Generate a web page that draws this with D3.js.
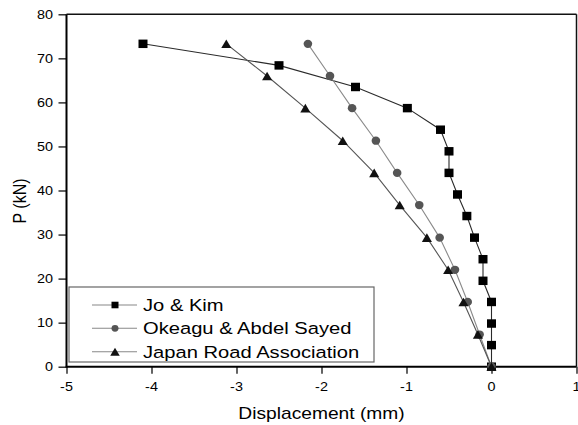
<!DOCTYPE html>
<html>
<head>
<meta charset="utf-8">
<script src="https://cdn.jsdelivr.net/npm/d3@7"></script>
<style>
  html, body { margin: 0; padding: 0; background: #fff; }
  svg { display: block; }
  text { font-family: "Liberation Sans", Arial, sans-serif; fill: #000; }
</style>
</head>
<body>
<svg id="chart" width="578" height="425"></svg>
<script>
// Load (kN) against displacement (mm) for three prediction methods
const loadLevelsJoKim = [73.3, 68.4, 63.5, 58.7, 53.8, 48.9, 44.0, 39.1, 34.2, 29.3, 24.4, 19.5, 14.7, 9.8, 4.9, 0];
const dispJoKim       = [-4.10, -2.50, -1.60, -0.99, -0.60, -0.50, -0.50, -0.40, -0.29, -0.20, -0.10, -0.10, 0, 0, 0, 0];

const loadLevels      = [73.3, 66.0, 58.7, 51.3, 44.0, 36.7, 29.3, 22.0, 14.7, 7.3, 0];
const dispOkeagu      = [-2.16, -1.90, -1.64, -1.36, -1.11, -0.85, -0.61, -0.43, -0.28, -0.14, 0];
const dispJapan       = [-3.12, -2.64, -2.19, -1.75, -1.38, -1.08, -0.76, -0.51, -0.33, -0.16, 0];

const seriesNames = ["Jo & Kim", "Okeagu & Abdel Sayed", "Japan Road Association"];
const xTicks = [-5, -4, -3, -2, -1, 0, 1];
const yTicks = [0, 10, 20, 30, 40, 50, 60, 70, 80];

const svg = d3.select("#chart");
const plotLeft = 66.5, plotRight = 576.5, plotTop = 14.3, plotBottom = 366.7;
const STRETCH = 1.2; // horizontal widening of all lettering

const x = d3.scaleLinear().domain([-5, 1]).range([plotLeft, plotRight]);
const y = d3.scaleLinear().domain([0, 80]).range([plotBottom, plotTop]);

// frame: top and right edges
svg.append("line").attr("x1", plotLeft).attr("x2", plotRight).attr("y1", plotTop).attr("y2", plotTop)
  .attr("stroke", "#111").attr("stroke-width", 1.5);
svg.append("line").attr("x1", plotRight).attr("x2", plotRight).attr("y1", plotTop).attr("y2", plotBottom)
  .attr("stroke", "#111").attr("stroke-width", 1.5);

// axes (tick marks only, labels drawn separately)
const yAxis = svg.append("g").attr("transform", `translate(${plotLeft},0)`)
  .call(d3.axisLeft(y).tickValues(yTicks).tickSize(8).tickFormat(""));
const xAxis = svg.append("g").attr("transform", `translate(0,${plotBottom})`)
  .call(d3.axisBottom(x).tickValues(xTicks).tickSize(7).tickFormat(""));
[yAxis, xAxis].forEach(g => {
  g.select(".domain").remove();
  g.selectAll(".tick line").attr("stroke", "#111").attr("stroke-width", 1.3);
});
svg.append("line").attr("x1", plotLeft).attr("x2", plotLeft).attr("y1", plotTop).attr("y2", plotBottom + 0.8)
  .attr("stroke", "#000").attr("stroke-width", 2);
svg.append("line").attr("x1", plotLeft - 0.8).attr("x2", plotRight).attr("y1", plotBottom).attr("y2", plotBottom)
  .attr("stroke", "#000").attr("stroke-width", 2);

function stretchedText(px, py, str, size, anchor, extra) {
  return svg.append("text")
    .attr("transform", `translate(${px},${py}) scale(${STRETCH},1)` + (extra || ""))
    .attr("text-anchor", anchor)
    .attr("font-size", size)
    .text(str);
}

// tick labels, plain hyphen for negatives
const fmt = v => String(v);
yTicks.forEach(v => stretchedText(53, y(v) + 4.2, fmt(v), 12, "end"));
xTicks.forEach(v => stretchedText(x(v), 391, fmt(v), 12, "middle"));

// axis titles
stretchedText((plotLeft + plotRight) / 2, 418.5, "Displacement (mm)", 16, "middle");
stretchedText(25.5, 201, "P (kN)", 16, "middle", " rotate(-90)");

// marker shapes
function drawMarker(g, kind, cx, cy, s, color) {
  if (kind === "square") {
    g.append("rect").attr("x", cx - s / 2).attr("y", cy - s * 0.47).attr("width", s).attr("height", s * 0.94)
      .attr("fill", color);
  } else if (kind === "circle") {
    g.append("ellipse").attr("cx", cx).attr("cy", cy).attr("rx", s / 2).attr("ry", s * 0.48)
      .attr("fill", color);
  } else {
    const w = s * 1.12, h = s * 0.95;
    g.append("path")
      .attr("d", `M${cx},${cy - h / 2}L${cx + w / 2},${cy + h / 2}L${cx - w / 2},${cy + h / 2}Z`)
      .attr("fill", color);
  }
}

const series = [
  { name: seriesNames[0], xs: dispJoKim, ps: loadLevelsJoKim, marker: "square", line: "#2a2a2a", fill: "#000", size: 9 },
  { name: seriesNames[1], xs: dispOkeagu, ps: loadLevels,     marker: "circle", line: "#8a8a8a", fill: "#555", size: 8.6 },
  { name: seriesNames[2], xs: dispJapan,  ps: loadLevels,     marker: "triangle", line: "#555", fill: "#111", size: 9 }
];

const lineGen = d3.line().x(d => x(d[0])).y(d => y(d[1]));

series.forEach(s => {
  const pts = s.xs.map((v, i) => [v, s.ps[i]]);
  const g = svg.append("g");
  g.append("path").attr("d", lineGen(pts)).attr("fill", "none")
    .attr("stroke", s.line).attr("stroke-width", 1.1);
  pts.forEach(p => drawMarker(g, s.marker, x(p[0]), y(p[1]), s.size, s.fill));
});

// legend
const lg = svg.append("g");
lg.append("rect").attr("x", 69).attr("y", 287).attr("width", 305).attr("height", 75)
  .attr("fill", "#fff").attr("stroke", "#666").attr("stroke-width", 1.2);
const rowY = [305, 328.3, 351.7];
series.forEach((s, i) => {
  lg.append("line").attr("x1", 92).attr("x2", 137).attr("y1", rowY[i]).attr("y2", rowY[i])
    .attr("stroke", "#888").attr("stroke-width", 1.1);
  drawMarker(lg, s.marker, 115, rowY[i], s.marker === "triangle" ? 8.5 : 7, s.fill);
  lg.append("text")
    .attr("transform", `translate(143,${rowY[i] + 6}) scale(${STRETCH},1)`)
    .attr("font-size", 16.8)
    .text(s.name);
});
</script>
</body>
</html>
